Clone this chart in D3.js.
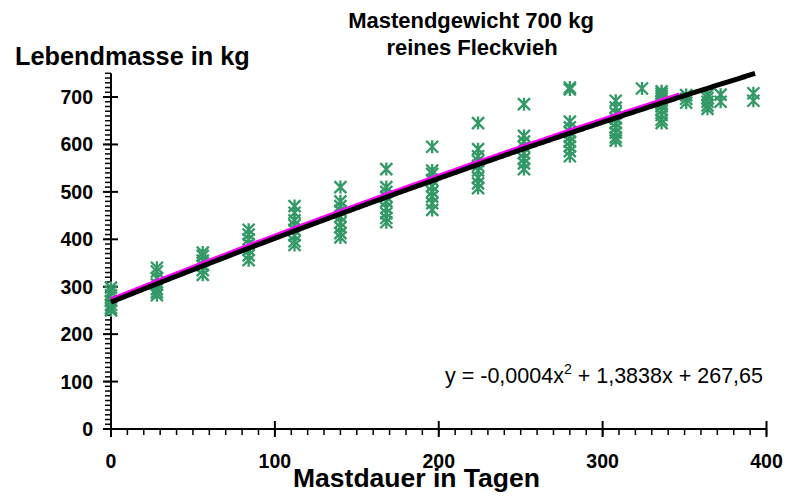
<!DOCTYPE html>
<html>
<head>
<meta charset="utf-8">
<script src="https://cdn.jsdelivr.net/npm/d3@7"></script>
<style>
  html, body { margin: 0; padding: 0; background: #fff; }
  svg { display: block; font-family: "Liberation Sans", Arial, Helvetica, sans-serif; }
</style>
</head>
<body>
<svg id="chart" width="787" height="497"></svg>
<script>
// ---- data ----
const titleLines = ["Mastendgewicht 700 kg", "reines Fleckvieh"];
const yTitle = "Lebendmasse in kg";
const xTitle = "Mastdauer in Tagen";
const xTicks = [0, 100, 200, 300, 400];
const yTicks = [0, 100, 200, 300, 400, 500, 600, 700];
const sampleDays = [0, 28, 56, 84, 112, 140, 168, 196, 224, 252, 280, 308, 324, 336, 351, 364, 372, 392];
const sampleWeights = [
  [298, 290, 282, 270, 262, 255, 250],
  [340, 332, 318, 305, 295, 288, 282],
  [372, 365, 355, 345, 335, 325],
  [420, 410, 400, 390, 378, 366, 356],
  [470, 456, 440, 430, 420, 408, 396, 388],
  [510, 480, 470, 460, 448, 435, 425, 413, 404],
  [548, 510, 500, 490, 480, 466, 455, 445, 436],
  [595, 545, 538, 525, 512, 500, 490, 476, 462],
  [645, 590, 575, 565, 555, 545, 530, 518, 508],
  [685, 618, 606, 595, 582, 570, 560, 548],
  [720, 716, 648, 636, 626, 616, 606, 596, 586, 575],
  [692, 678, 666, 655, 645, 635, 625, 615, 608],
  [718],
  [712, 707, 702, 697, 692, 686, 680, 672, 662, 652, 645],
  [704, 696, 688],
  [705, 698, 690, 682, 675],
  [705, 690],
  [708, 692]
];
const trendCoef = [-0.0004, 1.3838, 267.65];   // a x^2 + b x + c
const trendRange = [0, 393];
const fitRange = [0, 347];
const equationText = ["y = -0,0004x", "2", " + 1,3838x + 267,65"];

// ---- layout ----
const svg = d3.select("#chart");
const x = d3.scaleLinear().domain([0, 400]).range([111, 766.5]);
const y = d3.scaleLinear().domain([0, 750]).range([429, 73.3]);
const green = "#339966";
const trend = d => trendCoef[0] * d * d + trendCoef[1] * d + trendCoef[2];

// title
svg.append("text").attr("x", 471).attr("y", 28).attr("text-anchor", "middle")
  .attr("font-size", 22).attr("font-weight", "bold").text(titleLines[0]);
svg.append("text").attr("x", 472).attr("y", 55).attr("text-anchor", "middle")
  .attr("font-size", 22).attr("font-weight", "bold").text(titleLines[1]);

// axis titles
svg.append("text").attr("x", 15).attr("y", 65)
  .attr("font-size", 25.3).attr("font-weight", "bold").text(yTitle);
svg.append("text").attr("x", 416.5).attr("y", 487).attr("text-anchor", "middle")
  .attr("font-size", 26.5).attr("font-weight", "bold").text(xTitle);

// y axis
const yAxis = svg.append("g");
yAxis.append("line").attr("x1", x(0)).attr("x2", x(0)).attr("y1", y(0) + 1).attr("y2", y(750))
  .attr("stroke", "#000").attr("stroke-width", 2);
yAxis.selectAll(".ymin").data(d3.range(0, 751, 10)).join("line")
  .attr("x1", x(0) - 6).attr("x2", x(0)).attr("y1", d => y(d)).attr("y2", d => y(d))
  .attr("stroke", "#000").attr("stroke-width", 1.5);
yAxis.selectAll(".ymaj").data(yTicks).join("line")
  .attr("x1", x(0) - 8).attr("x2", x(0) + 7).attr("y1", d => y(d)).attr("y2", d => y(d))
  .attr("stroke", "#000").attr("stroke-width", 2);
yAxis.selectAll(".ylab").data(yTicks).join("text")
  .attr("x", 93).attr("y", d => y(d) + 7).attr("text-anchor", "end")
  .attr("font-size", 19.5).attr("font-weight", "bold").text(d => d);

// x axis
const xAxis = svg.append("g");
xAxis.append("line").attr("x1", x(0) - 1).attr("x2", x(400)).attr("y1", y(0)).attr("y2", y(0))
  .attr("stroke", "#000").attr("stroke-width", 2);
xAxis.selectAll(".xmin").data(d3.range(0, 401, 10)).join("line")
  .attr("x1", d => x(d)).attr("x2", d => x(d)).attr("y1", y(0)).attr("y2", y(0) + 6)
  .attr("stroke", "#000").attr("stroke-width", 1.5);
xAxis.selectAll(".xmaj").data(xTicks).join("line")
  .attr("x1", d => x(d)).attr("x2", d => x(d)).attr("y1", y(0) - 8).attr("y2", y(0) + 8)
  .attr("stroke", "#000").attr("stroke-width", 2);
xAxis.selectAll(".xlab").data(xTicks).join("text")
  .attr("x", d => x(d)).attr("y", 468).attr("text-anchor", "middle")
  .attr("font-size", 19.5).attr("font-weight", "bold").text(d => d);

// points
const points = [];
sampleDays.forEach((d, i) => sampleWeights[i].forEach(w => points.push([d, w])));
const marker = "M-6,-6L6,6M6,-6L-6,6M0,-6.5L0,6.5";
svg.append("g").selectAll("path").data(points).join("path")
  .attr("transform", p => `translate(${x(p[0])},${y(p[1])})`)
  .attr("d", marker).attr("fill", "none")
  .attr("stroke", green).attr("stroke-width", 2.3);

// fitted lines
const line = d3.line().x(d => x(d)).y(d => y(trend(d)));
svg.append("path").attr("d", line(d3.range(fitRange[0], fitRange[1] + 0.5, 1)))
  .attr("transform", "translate(0,-2.2)")
  .attr("fill", "none").attr("stroke", "#ff00ff").attr("stroke-width", 5);
svg.append("path").attr("d", line(d3.range(trendRange[0], trendRange[1] + 0.5, 1)))
  .attr("fill", "none").attr("stroke", "#000").attr("stroke-width", 5);

// equation
const eq = svg.append("text").attr("x", 445).attr("y", 383).attr("font-size", 21.5);
eq.append("tspan").text(equationText[0]);
eq.append("tspan").attr("font-size", 14).attr("dy", -9).text(equationText[1]);
eq.append("tspan").attr("dy", 9).text(equationText[2]);
</script>
</body>
</html>
